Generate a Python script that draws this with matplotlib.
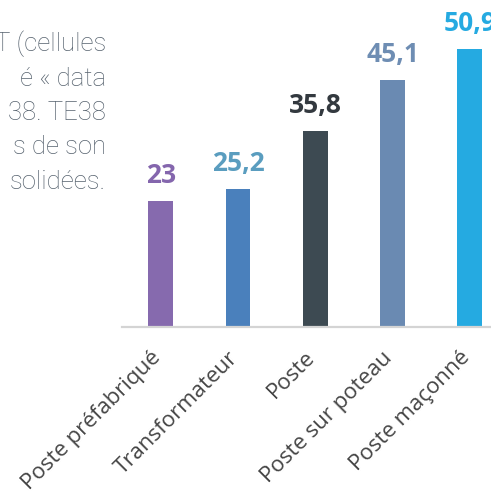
import matplotlib
matplotlib.use("Agg")
import matplotlib.pyplot as plt
from matplotlib.transforms import ScaledTranslation

categories = ["Poste préfabriqué", "Transformateur", "Poste", "Poste sur poteau", "Poste maçonné"]
values = [23, 25.2, 35.8, 45.1, 50.9]
value_labels = ["23", "25,2", "35,8", "45,1", "50,9"]
bar_colors = ["#866aae", "#4a80bc", "#3d4a52", "#6a8ab2", "#25aae1"]
label_colors = ["#8466ad", "#5a9dbf", "#33393f", "#6e8db3", "#25aae1"]
paragraph = ["T (cellules", "é « data", "38. TE38", "s de son", "solidées."]

W = H = 491
fig = plt.figure(figsize=(W / 100, H / 100), dpi=100)
fig.patch.set_facecolor("white")

px_per_cat = 77.3
left_px = 122
base_px = 327
ax = fig.add_axes([left_px / W, 1 - base_px / H, 5 * px_per_cat / W, base_px / H])
x = list(range(len(categories)))
ax.bar(x, values, width=0.32, color=bar_colors, zorder=2)
ax.set_xlim(-0.5, 4.5)
ax.set_ylim(0, base_px / 5.47)
for s in ["top", "right", "left"]:
    ax.spines[s].set_visible(False)
ax.spines["bottom"].set_color("#d4d4d4")
ax.spines["bottom"].set_linewidth(1.6)
ax.set_yticks([])
ax.set_xticks(x)
ax.set_xticklabels(categories, rotation=45, ha="right", va="center", rotation_mode="anchor",
                   fontsize=16, family=["Open Sans", "DejaVu Sans"], color="#454545")
ax.tick_params(axis="x", length=0, pad=22)
shift = ScaledTranslation(-3 / 100, 3 / 100, fig.dpi_scale_trans)
for lbl in ax.get_xticklabels():
    lbl.set_transform(lbl.get_transform() + shift)

for xi, v, lab, c in zip(x, values, value_labels, label_colors):
    ax.annotate(lab, (xi, v), xytext=(0, 8.5), textcoords="offset points",
                ha="center", va="bottom", fontsize=19, fontweight="bold",
                family=["Open Sans", "DejaVu Sans"], color=c, annotation_clip=False)

for i, line in enumerate(paragraph):
    y = 44 + i * 34.5
    fig.text(106 / W, 1 - y / H, line, ha="right", va="center", fontsize=18.5,
             family=["Roboto", "DejaVu Sans"], fontweight="light", color="#56626e")

fig.savefig("out.png", dpi=100, facecolor="white")
